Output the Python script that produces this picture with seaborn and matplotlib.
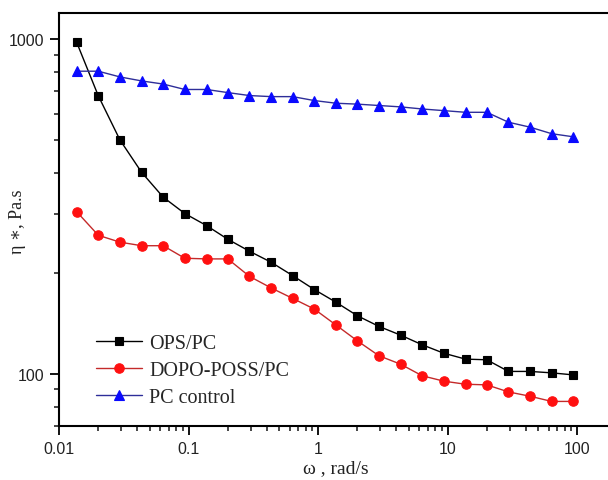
import matplotlib
matplotlib.use("Agg")
import matplotlib.pyplot as plt
import matplotlib.ticker as mticker
import numpy as np
import pandas as pd
import seaborn as sns

# ---- data ----
omega = [0.0136, 0.02, 0.0294, 0.0432, 0.0634, 0.0931, 0.137, 0.2, 0.294,
         0.432, 0.634, 0.931, 1.37, 2.0, 2.94, 4.32, 6.34, 9.31, 13.7, 20.0,
         29.4, 43.2, 63.4, 93.1]
ops_pc = [982, 679, 501, 401, 338, 302, 278, 253, 233, 216, 197, 179, 164,
          149.5, 138.9, 130.8, 122.4, 115.5, 110.9, 110.4, 101.9, 101.9,
          100.9, 99.5]
dopo_poss_pc = [306, 260, 248, 242, 242, 222, 221, 221, 196, 181, 168.4,
                156.5, 140.2, 125.8, 113.5, 107.1, 98.9, 95.3, 93.3, 92.9,
                88.5, 85.9, 82.9, 82.9]
pc_control = [804, 804, 773, 752, 736, 709, 709, 694, 680, 675, 675, 657,
              645, 641, 635, 629, 620, 613, 606, 606, 566, 547, 523, 512]
series_names = ["OPS/PC", "DOPO-POSS/PC", "PC control"]
x_ticks = [0.01, 0.1, 1, 10, 100]
x_tick_labels = ["0.01", "0.1", "1", "10", "100"]
y_ticks = [100, 1000]
y_tick_labels = ["100", "1000"]

sns.set_theme(style="ticks")
plt.rcParams["font.family"] = ["Liberation Sans", "DejaVu Sans"]

fig = plt.figure(figsize=(6.08, 4.81), dpi=100)
# axes: left spine at x=59, top at y=14, bottom at y=427 (pixels)
ax = fig.add_axes([59.3 / 608, (481 - 427) / 481, 557 / 608, 413 / 481])

styles = [
    dict(marker="s", mfc="black", mec="black", color="black", ms=6),
    dict(marker="o", mfc="#ff1010", mec="#ff1010", color="#c42a2a", ms=6.8),
    dict(marker="^", mfc="#0a0aff", mec="#0a0aff", color="#2e2e99", ms=7.8),
]
for name, vals, st in zip(series_names, [ops_pc, dopo_poss_pc, pc_control], styles):
    df = pd.DataFrame({"omega": omega, "eta": vals})
    sns.lineplot(data=df, x="omega", y="eta", ax=ax, label=name,
                 marker=st["marker"], markerfacecolor=st["mfc"],
                 markeredgecolor=st["mec"], color=st["color"],
                 markersize=st["ms"], linewidth=1.0, markeredgewidth=0.8)

ax.set_xscale("log")
ax.set_yscale("log")
ax.set_xlim(0.01, 200)
ax.set_ylim(70, 1200)

ax.set_xticks(x_ticks)
ax.set_xticklabels(x_tick_labels)
ax.set_yticks(y_ticks)
ax.set_yticklabels(y_tick_labels)
ax.xaxis.set_minor_locator(mticker.LogLocator(base=10, subs=np.arange(2, 10)))
ax.yaxis.set_minor_locator(mticker.LogLocator(base=10, subs=np.arange(2, 10)))
ax.xaxis.set_minor_formatter(mticker.NullFormatter())
ax.yaxis.set_minor_formatter(mticker.NullFormatter())

for sp in ["left", "bottom", "top", "right"]:
    ax.spines[sp].set_visible(True)
    ax.spines[sp].set_linewidth(1.5)
    ax.spines[sp].set_color("black")

ax.tick_params(axis="both", which="major", direction="out", length=6.5,
               width=1.3, labelsize=11.5, colors="black", pad=4,
               top=False, right=False)
ax.tick_params(axis="both", which="minor", direction="out", length=3.5,
               width=1.2, top=False, right=False)
for lab in ax.get_xticklabels() + ax.get_yticklabels():
    lab.set_color("#222222")

serif = ["Liberation Serif", "DejaVu Serif"]
ax.set_xlabel("ω , rad/s", fontsize=14, family=serif, color="#222222",
              va="center")
ax.set_ylabel("η ∗, Pa.s", fontsize=13, family=serif, color="#222222",
              va="center")
ax.xaxis.set_label_coords((336 - 59.3) / 557, (427 - 469) / 413)
ax.yaxis.set_label_coords((18 - 59.3) / 557, (427 - 222) / 413)

ax.grid(False)
ax.set_facecolor("white")
fig.patch.set_facecolor("white")

leg = ax.legend(loc="upper left", bbox_to_anchor=((96 - 59.3) / 557, (427 - 335) / 413),
                frameon=False, prop={"family": serif, "size": 14.5},
                handlelength=2.3, handletextpad=0.35, labelspacing=0.38,
                borderaxespad=0, borderpad=0)

fig.savefig("out.png", dpi=100, facecolor="white")
